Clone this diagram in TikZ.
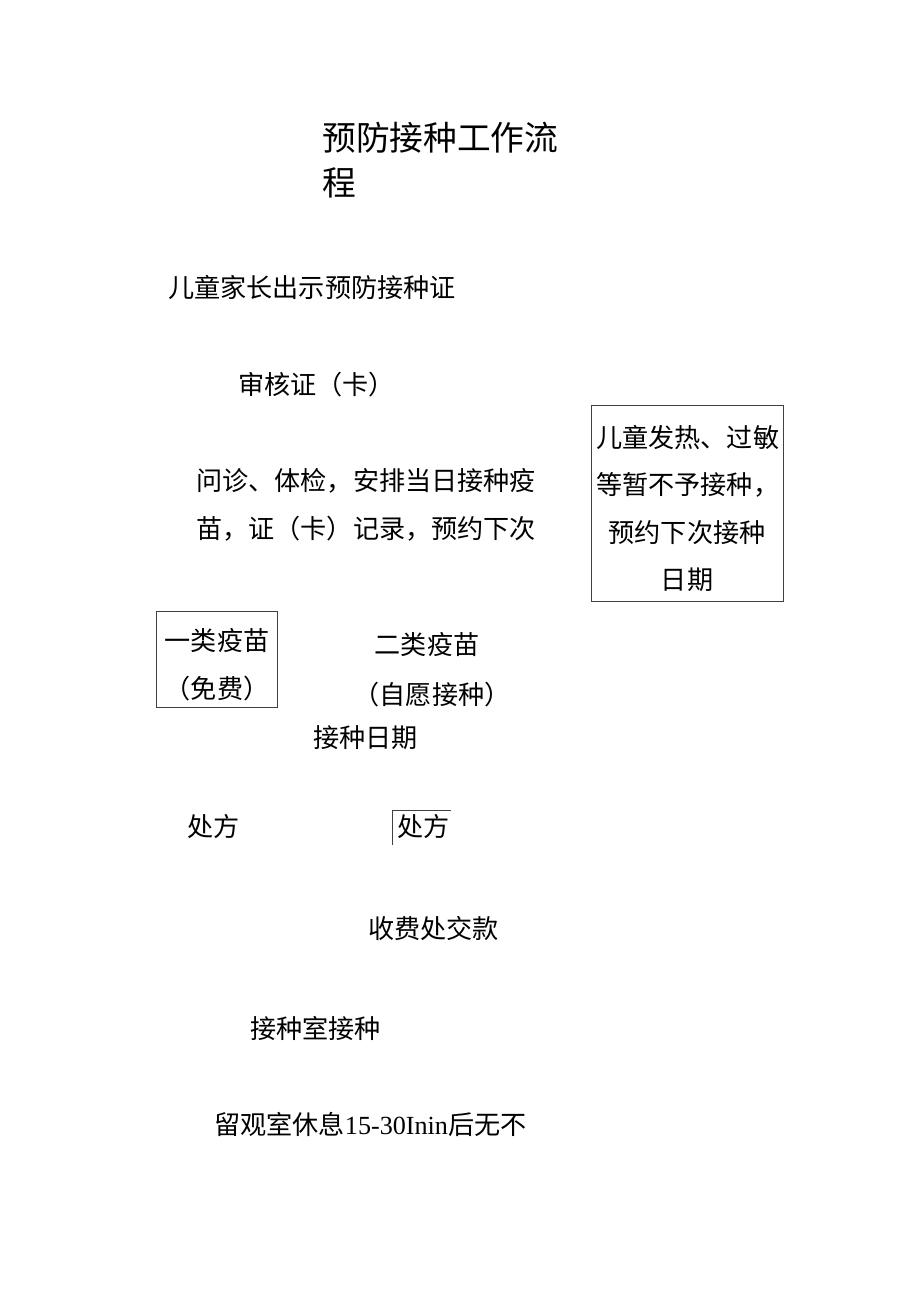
\documentclass[tikz,border=0pt]{standalone}
\usepackage{fontspec}
\setmainfont{Liberation Serif}
\newfontfamily\cjk{Noto Sans CJK SC}
\begin{document}
\begin{tikzpicture}[x=0.75pt,y=-0.75pt,
  txt/.style={anchor=west,inner sep=0pt,font=\cjk\fontsize{19.6pt}{22pt}\selectfont},
  ctxt/.style={anchor=center,inner sep=0pt,font=\cjk\fontsize{19.6pt}{22pt}\selectfont},
  ttl/.style={anchor=west,inner sep=0pt,font=\cjk\fontsize{25.3pt}{28pt}\selectfont},
  frame/.style={draw=black!75,line width=0.75pt}]
\useasboundingbox[fill=white] (0,0) rectangle (920,1301);
\node[ttl] (t1) at (322,138) {预防接种工作流};
\node[ttl] (t2) at (322,183) {程};
\node[txt] (n1) at (168,287) {儿童家长出示预防接种证};
\node[txt] (n2) at (238,385) {审核证（卡）};
\node[txt] (n3a) at (196,481) {问诊、体检，安排当日接种疫};
\node[txt] (n3b) at (196,529) {苗，证（卡）记录，预约下次};
\draw[frame] (591,405) rectangle (783,601);
\node[txt] (r1) at (596,437) {儿童发热、过敏};
\node[txt] (r2) at (596,485) {等暂不予接种，};
\node[ctxt] (r3) at (687,533) {预约下次接种};
\node[ctxt] (r4) at (687,580) {日期};
\draw[frame] (156,611) rectangle (277,707);
\node[ctxt] (a1) at (217,641) {一类疫苗};
\node[ctxt] (a2) at (217,689) {（免费）};
\node[ctxt] (b1) at (427,645) {二类疫苗};
\node[ctxt] (b2) at (432,695) {（自愿接种）};
\node[txt] (b3) at (313,738) {接种日期};
\node[txt] (p1) at (187,827) {处方};
\node[txt] (p2) at (397,827) {处方};
\coordinate (pa) at (392,845);
\coordinate (pb) at (392,810);
\coordinate (pc) at (451,810);
\draw[frame] (pa) -- (pb) -- (pc);
\node[txt] (c1) at (368,928) {收费处交款};
\node[txt] (c2) at (250,1028) {接种室接种};
\node[txt] (c3) at (214,1124) {留观室休息\fontspec{Liberation Serif}15-30Inin\cjk 后无不};
\end{tikzpicture}
\end{document}
